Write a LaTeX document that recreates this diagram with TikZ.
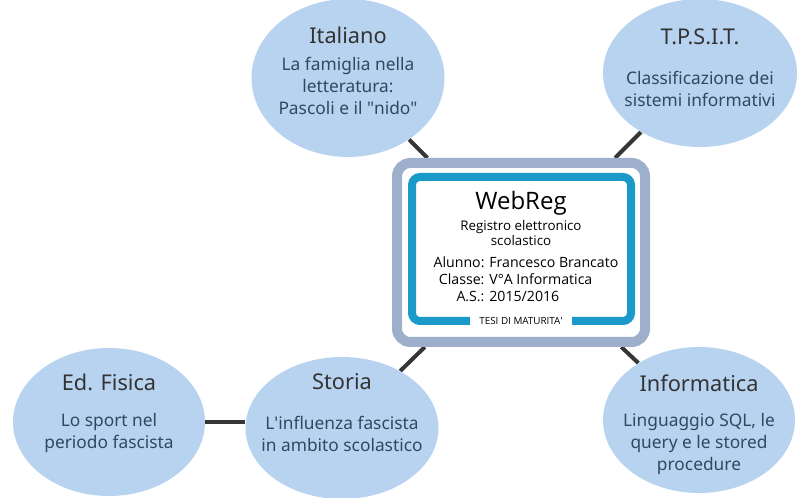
\documentclass[tikz,border=0pt]{standalone}
\usepackage{fontspec}
\setmainfont{Noto Sans}
\newfontfamily\boxfont{Open Sans}
\usetikzlibrary{shapes.geometric, backgrounds}
\definecolor{bubble}{HTML}{B8D3F0}
\definecolor{titletext}{HTML}{333333}
\definecolor{subtext}{HTML}{2E4A5E}
\definecolor{frame}{HTML}{9EAFCC}
\definecolor{regblue}{HTML}{1A9AC8}
\definecolor{link}{HTML}{363636}
\tikzset{
  bubble/.style={ellipse, fill=bubble, inner sep=0pt},
  title/.style={text=titletext, font=\fontsize{16.3}{18}\selectfont, inner sep=0pt},
  subtitle/.style={text=subtext, align=center, font=\fontsize{13}{16.5}\selectfont, inner sep=0pt},
  link/.style={draw=link, line width=3pt},
}

\begin{document}
\begin{tikzpicture}[x=0.75pt, y=-0.75pt]
\useasboundingbox (0,0) rectangle (797,498);
% subjects
\node[bubble, minimum width=193*0.75pt, minimum height=158*0.75pt] (ita) at (348,78) {};
\node[bubble, minimum width=194*0.75pt, minimum height=148*0.75pt] (tps) at (700,73) {};
\node[bubble, minimum width=192*0.75pt, minimum height=148*0.75pt] (edf) at (109,422) {};
\node[bubble, minimum width=193*0.75pt, minimum height=142*0.75pt] (sto) at (342,428) {};
\node[bubble, minimum width=192*0.75pt, minimum height=146*0.75pt] (inf) at (699,420) {};
\path (ita.center) ++(0,-43) node[title] {Italiano}
      (ita.center) ++(0,7.5) node[subtitle] {La famiglia nella\\letteratura:\\Pascoli e il \textquotedbl nido\textquotedbl};
\path (tps.center) ++(0,-36) node[title] {T.P.S.I.T.}
      (tps.center) ++(0,16) node[subtitle] {Classificazione dei\\sistemi informativi};
\path (edf.center) ++(0,-40) node[title] {Ed. Fisica}
      (edf.center) ++(0,11) node[subtitle] {Lo sport nel\\periodo fascista};
\path (sto.center) ++(0,-46) node[title] {Storia}
      (sto.center) ++(0,5.5) node[subtitle] {L\textquotesingle influenza fascista\\in ambito scolastico};
\path (inf.center) ++(0,-37) node[title] {Informatica}
      (inf.center) ++(0,24) node[subtitle] {Linguaggio SQL, le\\query e le stored\\procedure};
% central card
\node[draw=frame, line width=7.5pt, fill=white, rounded corners=10pt, minimum width=248*0.75pt, minimum height=179*0.75pt] (card) at (521,252.5) {};
\node[draw=regblue, line width=6pt, rounded corners=6pt, minimum width=219*0.75pt, minimum height=144*0.75pt] (screen) at (521.5,249) {};
\node[fill=white, inner xsep=7pt, inner ysep=1pt, font=\boxfont\fontsize{7.4}{8}\selectfont] (tesi) at (521,320.5) {TESI DI MATURITA\textquotesingle};
\node[font=\boxfont\fontsize{18}{20}\selectfont] (webreg) at (521,203) {WebReg};
\node[align=center, inner sep=0pt, font=\boxfont\fontsize{10}{11.25}\selectfont] (desc) at (521,233) {Registro elettronico\\scolastico};
\node[inner sep=0pt, font=\boxfont\fontsize{10.6}{12.75}\selectfont] (info) at (526,281.5) {%
  \begin{tabular}{@{}r@{ }l@{}}
  Alunno: & Francesco Brancato\\
  Classe: & V°A Informatica\\
  A.S.: & 2015/2016
  \end{tabular}};
% connectors
\begin{scope}[on background layer]
\draw[link] (ita) -- (card);
\draw[link] (tps) -- (card);
\draw[link] (sto) -- (card);
\draw[link] (inf) -- (card);
\draw[link] (edf.east) -- (sto.west |- edf.east);
\end{scope}
\end{tikzpicture}
\end{document}
